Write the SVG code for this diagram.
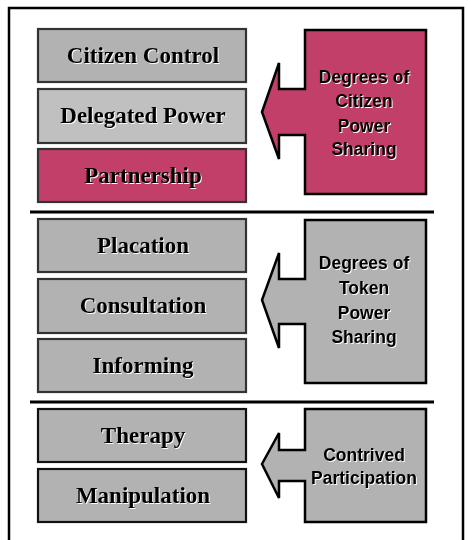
<svg xmlns="http://www.w3.org/2000/svg" width="468" height="540" viewBox="0 0 468 540">
<defs>
<filter id="sh" x="-10%" y="-20%" width="120%" height="140%" color-interpolation-filters="sRGB">
<feDropShadow dx="1" dy="1" stdDeviation="0" flood-color="#ffffff" flood-opacity="1"/>
</filter>
</defs>
<style>
.box{stroke:#333;stroke-width:2.2}
.g{fill:#b2b2b2}
.lg{fill:#c0c0c0}
.m{fill:#c13f69}
.lt{font-family:"Liberation Serif",serif;font-weight:bold;font-size:23px;text-anchor:middle;fill:#000;filter:url(#sh)}
.arr{stroke:#000;stroke-width:2.5;stroke-linejoin:miter}
.at{font-family:"Liberation Sans",Arial,sans-serif;font-weight:bold;font-size:17.5px;text-anchor:middle;fill:#000;filter:url(#sh)}
.sep{stroke:#000;stroke-width:3}
</style>
<rect width="468" height="540" fill="#fff"/>
<path d="M9,545 V8 H463 V545" fill="none" stroke="#000" stroke-width="2.5"/>
<g id="separators">
<line class="sep" x1="30" y1="212" x2="434" y2="212"/>
<line class="sep" x1="30" y1="402" x2="434" y2="402"/>
</g>
<g id="citizen-control"><rect class="box g" x="38" y="29" width="208" height="53"/><text class="lt" x="143" y="63">Citizen Control</text></g>
<g id="delegated-power"><rect class="box lg" x="38" y="89" width="208" height="54"/><text class="lt" x="143" y="123">Delegated Power</text></g>
<g id="partnership"><rect class="box m" x="38" y="149" width="208" height="53"/><text class="lt" x="143" y="183">Partnership</text></g>
<g id="placation"><rect class="box g" x="38" y="219" width="208" height="53"/><text class="lt" x="143" y="253">Placation</text></g>
<g id="consultation"><rect class="box g" x="38" y="279" width="208" height="54"/><text class="lt" x="143" y="313">Consultation</text></g>
<g id="informing"><rect class="box g" x="38" y="339" width="208" height="53"/><text class="lt" x="143" y="373">Informing</text></g>
<g id="therapy"><rect class="box g" x="38" y="409" width="208" height="53" style="stroke:#111"/><text class="lt" x="143" y="443">Therapy</text></g>
<g id="manipulation"><rect class="box g" x="38" y="469" width="208" height="53" style="stroke:#111"/><text class="lt" x="143" y="503">Manipulation</text></g>
<g id="connectors">
<g id="arrow-citizen-power">
<path class="arr m" d="M305,30 H426 V194 H305 V135 H279 V159 L262,112 L279,63 V89 H305 Z"/>
<text class="at" x="364" y="83">Degrees of</text>
<text class="at" x="364" y="107">Citizen</text>
<text class="at" x="364" y="132">Power</text>
<text class="at" x="364" y="155">Sharing</text>
</g>
<g id="arrow-token-power">
<path class="arr g" d="M305,220 H426 V383 H305 V324 H279 V348 L262,300 L279,253 V279 H305 Z"/>
<text class="at" x="364" y="269">Degrees of</text>
<text class="at" x="364" y="294">Token</text>
<text class="at" x="364" y="319">Power</text>
<text class="at" x="364" y="343">Sharing</text>
</g>
<g id="arrow-contrived">
<path class="arr g" d="M305,409 H426 V522 H305 V481 H279 V498 L262,464 L279,433 V450 H305 Z"/>
<text class="at" x="364" y="461">Contrived</text>
<text class="at" x="364" y="484">Participation</text>
</g>
</g>
</svg>
